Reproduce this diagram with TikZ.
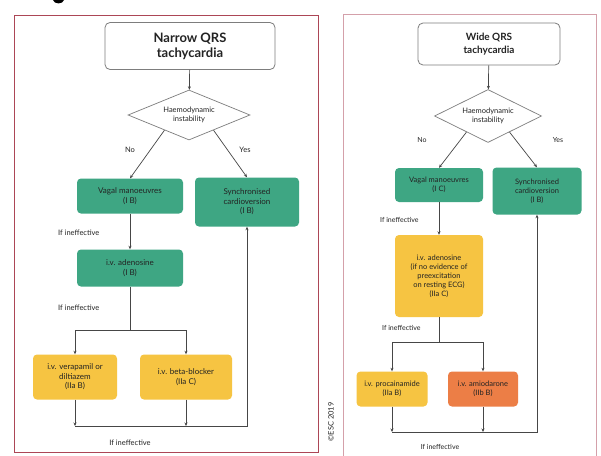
\documentclass[tikz,border=0pt]{standalone}
\usepackage{fontspec}
\setmainfont{Lato}
\usetikzlibrary{shapes.geometric,arrows.meta,calc}
\definecolor{escgreen}{RGB}{62,166,131}
\definecolor{escyellow}{RGB}{246,196,66}
\definecolor{escorange}{RGB}{236,126,70}
\definecolor{txt}{RGB}{35,35,35}
\definecolor{titlegray}{RGB}{125,125,125}
\definecolor{linegray}{RGB}{70,70,70}
\definecolor{frameL}{RGB}{172,70,86}
\definecolor{frameR}{RGB}{212,160,170}
\begin{document}
\begin{tikzpicture}[x=1pt,y=-1pt,
  box/.style={rounded corners=4pt, align=center, inner sep=1pt, text=txt,
              font=\fontsize{8}{9.6}\selectfont},
  sbox/.style={box, font=\fontsize{7.5}{9}\selectfont},
  gbox/.style={fill=escgreen},
  ybox/.style={fill=escyellow},
  obox/.style={fill=escorange},
  titlebox/.style={draw=titlegray, line width=0.8pt, rounded corners=5pt, fill=white,
                   align=center, text=txt},
  decision/.style={diamond, aspect=2.4, draw=titlegray, line width=0.7pt, fill=white,
                   inner sep=0pt, align=center, text=txt, font=\fontsize{7.5}{9}\selectfont},
  lbl/.style={font=\fontsize{7.5}{9}\selectfont, text=txt, inner sep=0pt},
  slbl/.style={lbl, font=\fontsize{7}{8.5}\selectfont},
  link/.style={draw=linegray, line width=0.7pt},
  arr/.style={link, -{Stealth[length=3.5pt,width=3pt]}},
]
\useasboundingbox (0,0) rectangle (601,455);
\fill[white] (0,0) rectangle (601,455);

% tail of a heading letter above the frames
\fill[black] (53,0) .. controls (54,4.5) and (63,4.5) .. (64,0) -- cycle;

% panel frames
\draw[frameL, line width=0.9pt] (14,15) rectangle (318,452);
\draw[frameR, line width=0.9pt] (343,14) rectangle (596,470);

% ---------------- narrow QRS ----------------
\node[titlebox, minimum width=170pt, minimum height=47pt,
      font=\bfseries\fontsize{13}{15}\selectfont] (tL) at (190,46) {Narrow QRS\\tachycardia};
\node[decision, minimum width=122pt, minimum height=50pt] (dL) at (189,115) {Haemodynamic\\instability};
\node[box, gbox, minimum width=106pt, minimum height=35pt] (vL) at (130,196) {Vagal manoeuvres\\(I B)};
\node[box, gbox, minimum width=104pt, minimum height=49pt] (sL) at (247,202) {Synchronised\\cardioversion\\(I B)};
\node[box, gbox, minimum width=106pt, minimum height=37pt] (aL) at (130,268) {i.v. adenosine\\(I B)};
\node[box, ybox, minimum width=84pt, minimum height=45pt] (y1L) at (75,377) {i.v. verapamil or\\diltiazem\\(IIa B)};
\node[box, ybox, minimum width=92pt, minimum height=45pt] (y2L) at (186,377) {i.v. beta-blocker\\(IIa C)};

\node[lbl] (noL) at (130,150) {No};
\node[lbl] (yesL) at (245,150) {Yes};
\node[lbl, anchor=west] (ie1L) at (58,233) {If ineffective};
\node[lbl, anchor=west] (ie2L) at (58,308) {If ineffective};
\node[lbl] (ie3L) at (130,443) {If ineffective};

\coordinate (jL) at (130,330);
\coordinate (bL) at (75,426);

\draw[arr] (tL) -- (dL);
\draw[arr] ($(dL.west)!0.6!(dL.south)$) -- (vL.north);
\draw[arr] ($(dL.east)!0.6!(dL.south)$) -- (sL.north);
\draw[arr] (vL) -- (aL);
\draw[link] (aL.south) -- (jL);
\draw[arr] (jL) -| (y1L.north);
\draw[arr] (jL) -| (y2L.north);
\draw[arr] (y1L.south) -- (y1L.south |- bL);
\draw[arr] (y2L.south) -- (y2L.south |- bL);
\draw[arr] (bL) -| (sL.south);

% ---------------- wide QRS ----------------
\node[titlebox, minimum width=142pt, minimum height=42pt,
      font=\bfseries\fontsize{10}{12.5}\selectfont] (tR) at (489,44) {Wide QRS\\tachycardia};
\node[decision, minimum width=107pt, minimum height=53pt] (dR) at (488,116) {Haemodynamic\\instability};
\node[sbox, gbox, minimum width=88pt, minimum height=34pt] (vR) at (439,185) {Vagal manoeuvres\\(I C)};
\node[sbox, gbox, minimum width=89pt, minimum height=47pt] (sR) at (537,191) {Synchronised\\cardioversion\\(I B)};
\node[sbox, ybox, minimum width=88pt, minimum height=82pt] (aR) at (439,276) {i.v. adenosine\\(if no evidence of\\preexcitation\\on resting ECG)\\(IIa C)};
\node[sbox, ybox, minimum width=71pt, minimum height=35pt] (pR) at (392,389) {i.v. procainamide\\(IIa B)};
\node[sbox, obox, minimum width=70pt, minimum height=35pt] (mR) at (483,389) {i.v. amiodarone\\(IIb B)};

\node[slbl] (noR) at (422,140) {No};
\node[slbl] (yesR) at (558,140) {Yes};
\node[slbl, anchor=west] (ie1R) at (380,220) {If ineffective};
\node[slbl, anchor=west] (ie2R) at (382,328) {If ineffective};
\node[slbl] (ie3R) at (440,447) {If ineffective};

\coordinate (jR) at (439,342);
\coordinate (bR) at (392,432);

\draw[arr] (tR) -- (dR);
\draw[arr] ($(dR.west)!0.6!(dR.south)$) -- (vR.north);
\draw[arr] ($(dR.east)!0.6!(dR.south)$) -- (sR.north);
\draw[arr] (vR) -- (aR);
\draw[link] (aR.south) -- (jR);
\draw[arr] (jR) -| (pR.north);
\draw[arr] (jR) -| (mR.north);
\draw[arr] (pR.south) -- (pR.south |- bR);
\draw[arr] (mR.south) -- (mR.south |- bR);
\draw[arr] (bR) -| (sR.south);

% copyright line
\node[rotate=90, inner sep=0pt, text=txt, font=\fontsize{7.5}{9}\selectfont] (copy) at (331,422) {©ESC 2019};
\end{tikzpicture}
\end{document}
